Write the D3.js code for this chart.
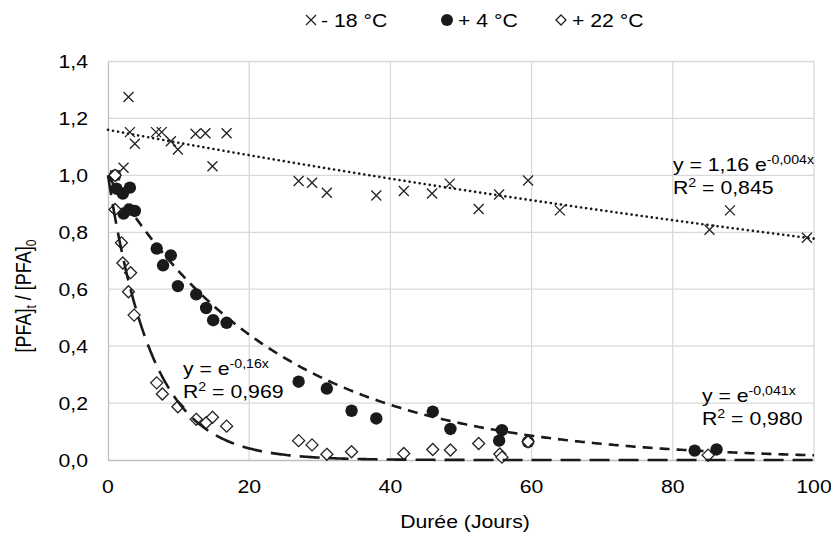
<!DOCTYPE html>
<html>
<head>
<meta charset="utf-8">
<script src="https://cdn.jsdelivr.net/npm/d3@7"></script>
<style>
  body { margin: 0; background: #fff; }
  text { font-family: "Liberation Sans", Arial, sans-serif; fill: #000; }
</style>
</head>
<body>
<div id="chart"></div>
<script>
// ticks
var xTicks = [0, 20, 40, 60, 80, 100];
var yTicks = [0, 0.2, 0.4, 0.6, 0.8, 1.0, 1.2, 1.4];
var seriesNames = ["- 18 °C", "+ 4 °C", "+ 22 °C"];

// -18 °C (crosses)
var coldX = [1, 2.2, 2.9, 3.1, 3.8, 6.8, 7.6, 8.9, 9.9, 12.4, 13.8, 14.8, 16.8, 27.0, 28.9, 31.0, 38.0, 41.9, 45.9, 48.4, 52.5, 55.4, 59.5, 64.0, 85.2, 88.1, 99.0];
var coldY = [1.0, 1.027, 1.275, 1.152, 1.111, 1.152, 1.152, 1.12, 1.091, 1.146, 1.148, 1.032, 1.148, 0.98, 0.974, 0.939, 0.929, 0.945, 0.936, 0.971, 0.882, 0.933, 0.982, 0.877, 0.809, 0.877, 0.781];

// +4 °C (filled circles)
var fridgeX = [1, 1.2, 2.1, 3.1, 2.2, 3.0, 3.8, 6.9, 7.8, 8.9, 9.9, 12.5, 13.9, 14.9, 16.8, 27.0, 31.0, 34.5, 38.0, 46.0, 48.5, 55.8, 55.4, 59.5, 83.1, 86.2];
var fridgeY = [1.0, 0.953, 0.936, 0.957, 0.866, 0.88, 0.875, 0.743, 0.684, 0.719, 0.611, 0.582, 0.534, 0.491, 0.482, 0.275, 0.251, 0.173, 0.146, 0.17, 0.109, 0.105, 0.068, 0.064, 0.033, 0.037];

// +22 °C (open diamonds)
var roomX = [1, 1.0, 1.9, 2.1, 3.2, 2.9, 3.7, 6.9, 7.7, 9.9, 12.5, 13.9, 14.8, 16.8, 27.0, 28.9, 31.0, 34.5, 41.9, 46.0, 48.5, 52.5, 55.5, 55.8, 59.5, 85.0];
var roomY = [1.0, 0.88, 0.763, 0.692, 0.658, 0.591, 0.509, 0.271, 0.232, 0.187, 0.143, 0.131, 0.15, 0.119, 0.068, 0.053, 0.02, 0.029, 0.023, 0.037, 0.035, 0.058, 0.021, 0.01, 0.064, 0.017];

// exponential trendlines y = a e^(k x)
var fitA = [1.16, 1, 1];
var fitK = [-0.004, -0.041, -0.16];

var width = 831, height = 533;
var margin = {top: 61.5, right: 17, bottom: 73, left: 108};
var stretch = 1.18; // text in the original is slightly wide

var svg = d3.select('#chart').append('svg')
  .attr('width', width)
  .attr('height', height);

var x = d3.scaleLinear().domain([0, 100]).range([margin.left, width - margin.right]);
var y = d3.scaleLinear().domain([0, 1.4]).range([height - margin.bottom, margin.top]);

// little helper for the wide text
function addText(parent, px, py, anchor, size) {
  return parent.append('text')
    .attr('transform', 'translate(' + px + ',' + py + ') scale(' + stretch + ',1)')
    .attr('text-anchor', anchor)
    .style('font-size', size + 'px');
}

// gridlines
svg.append('g')
  .selectAll('line.h')
  .data(yTicks.slice(1))
  .enter().append('line')
  .attr('x1', x(0)).attr('x2', x(100))
  .attr('y1', d => y(d)).attr('y2', d => y(d))
  .attr('stroke', '#d9d9d9').attr('stroke-width', 1.3);

svg.append('g')
  .selectAll('line.v')
  .data(xTicks.slice(1))
  .enter().append('line')
  .attr('x1', d => x(d)).attr('x2', d => x(d))
  .attr('y1', y(0)).attr('y2', y(1.4))
  .attr('stroke', '#d9d9d9').attr('stroke-width', 1.3);

// axes (no ticks, labels only)
var xAxis = svg.append('g')
  .attr('transform', 'translate(0,' + y(0) + ')')
  .call(d3.axisBottom(x).tickValues(xTicks).tickSize(0).tickFormat(d3.format('d')));
xAxis.select('.domain').attr('stroke', '#bfbfbf').attr('stroke-width', 1.3);
xAxis.selectAll('text').remove();

var yAxis = svg.append('g')
  .attr('transform', 'translate(' + x(0) + ',0)')
  .call(d3.axisLeft(y).tickValues(yTicks).tickSize(0));
yAxis.select('.domain').attr('stroke', '#bfbfbf').attr('stroke-width', 1.3);
yAxis.selectAll('text').remove();

var fmt = d => d3.format('.1f')(d).replace('.', ',');
xTicks.forEach(function(t) {
  addText(svg, x(t), 493, 'middle', 18).text(t);
});
yTicks.forEach(function(t) {
  addText(svg, 88, y(t) + 6.5, 'end', 18).text(fmt(t));
});

// axis titles
addText(svg, 465, 528, 'middle', 18).text('Durée (Jours)');

var yTitle = svg.append('text')
  .attr('transform', 'translate(31,296) rotate(-90) scale(1,' + stretch + ')')
  .attr('text-anchor', 'middle')
  .style('font-size', '18px');
yTitle.append('tspan').text('[PFA]');
yTitle.append('tspan').attr('dy', 4).style('font-size', '12px').text('t');
yTitle.append('tspan').attr('dy', -4).text(' / [PFA]');
yTitle.append('tspan').attr('dy', 4).style('font-size', '12px').text('0');

// marker shapes
var crossPath = 'M-5,-5L5,5M5,-5L-5,5';
var diamondPath = 'M0,-6L6,0L0,6L-6,0Z';

var plot = svg.append('g');

plot.selectAll('path.cold')
  .data(d3.zip(coldX, coldY))
  .enter().append('path')
  .attr('d', crossPath)
  .attr('transform', d => 'translate(' + x(d[0]) + ',' + y(d[1]) + ')')
  .attr('stroke', '#222').attr('stroke-width', 1.3).attr('fill', 'none');

plot.selectAll('circle.fridge')
  .data(d3.zip(fridgeX, fridgeY))
  .enter().append('circle')
  .attr('cx', d => x(d[0]))
  .attr('cy', d => y(d[1]))
  .attr('r', 6.2)
  .attr('fill', '#1a1a1a');

plot.selectAll('path.room')
  .data(d3.zip(roomX, roomY))
  .enter().append('path')
  .attr('d', diamondPath)
  .attr('transform', d => 'translate(' + x(d[0]) + ',' + y(d[1]) + ')')
  .attr('fill', '#fff').attr('stroke', '#222').attr('stroke-width', 1.3);

// trendlines
var days = d3.range(0, 100.01, 0.25);
var dashes = ['0.1,5', '10,7', '20,9'];
var line = d3.line().x(d => x(d[0])).y(d => y(d[1]));

fitA.forEach(function(a, i) {
  var pts = days.map(t => [t, a * Math.exp(fitK[i] * t)]);
  plot.append('path')
    .attr('d', line(pts))
    .attr('fill', 'none')
    .attr('stroke', '#1a1a1a')
    .attr('stroke-width', i === 0 ? 2.6 : 2.6)
    .attr('stroke-linecap', i === 0 ? 'round' : 'butt')
    .attr('stroke-dasharray', dashes[i]);
});

// equations
function equation(px, py, pre, sup, r2) {
  var t1 = addText(svg, px, py, 'start', 18);
  t1.append('tspan').text(pre);
  t1.append('tspan').attr('dy', -7).style('font-size', '12px').text(sup);
  var t2 = addText(svg, px, py + 23, 'start', 18);
  t2.append('tspan').text('R');
  t2.append('tspan').attr('dy', -7).style('font-size', '12px').text('2');
  t2.append('tspan').attr('dy', 7).text(' = ' + r2);
}
equation(673, 171, 'y = 1,16 e', '-0,004x', '0,845');
equation(702, 402, 'y = e', '-0,041x', '0,980');
equation(183, 375, 'y = e', '-0,16x', '0,969');

// legend
var legend = svg.append('g');
legend.append('path').attr('d', crossPath)
  .attr('transform', 'translate(311,20)')
  .attr('stroke', '#222').attr('stroke-width', 1.3).attr('fill', 'none');
addText(legend, 321, 27, 'start', 18).text(seriesNames[0]);
legend.append('circle').attr('cx', 447).attr('cy', 20).attr('r', 6).attr('fill', '#1a1a1a');
addText(legend, 458, 27, 'start', 18).text(seriesNames[1]);
legend.append('path').attr('d', 'M0,-5L5,0L0,5L-5,0Z')
  .attr('transform', 'translate(561,20)')
  .attr('fill', '#fff').attr('stroke', '#222').attr('stroke-width', 1.3);
addText(legend, 572, 27, 'start', 18).text(seriesNames[2]);
</script>
</body>
</html>
